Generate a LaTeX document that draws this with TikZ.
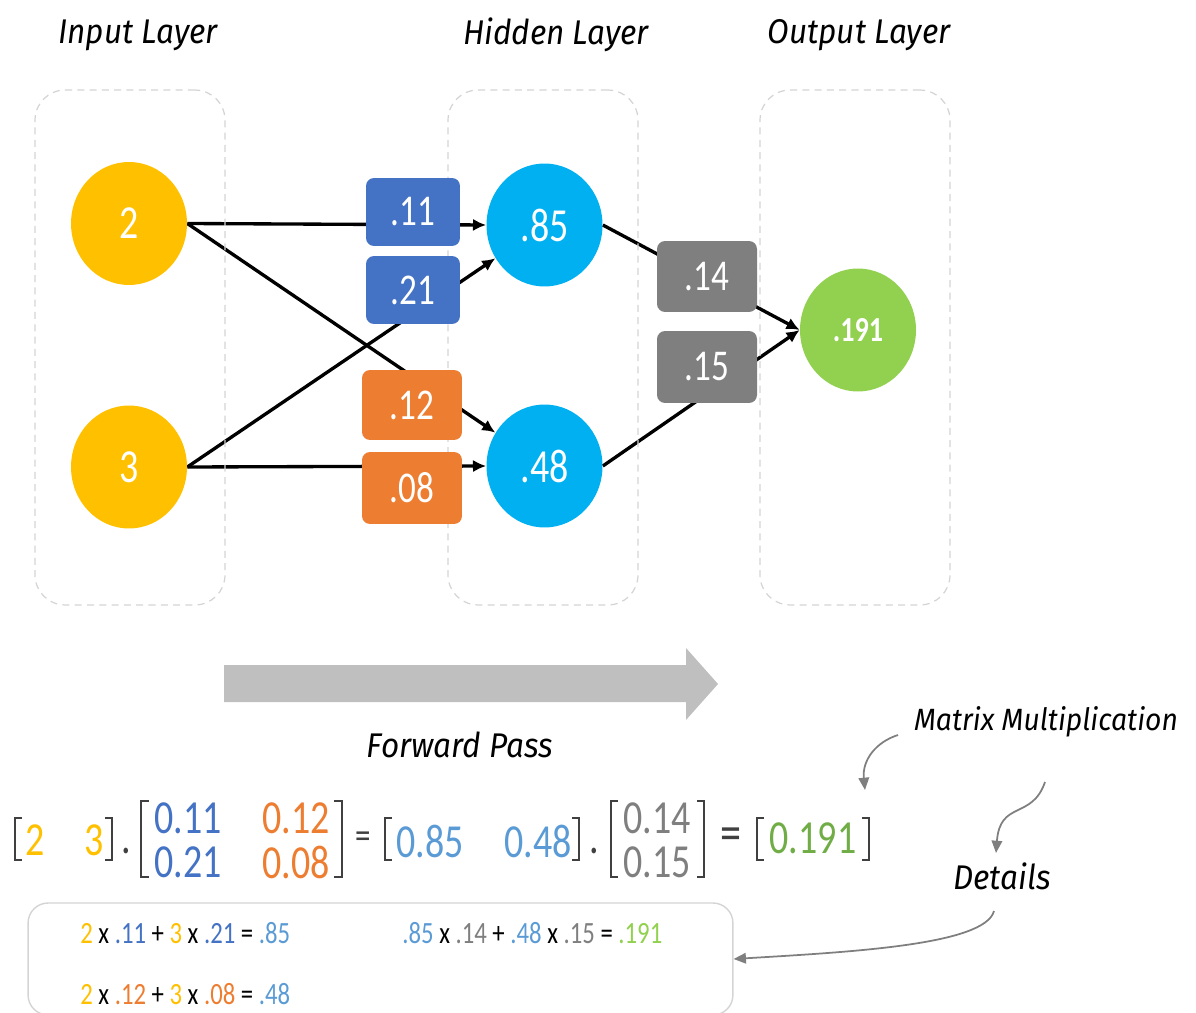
\documentclass[tikz,border=0pt]{standalone}
\usepackage{fontspec}
\newfontfamily\numfont[FakeStretch=0.8]{Carlito}
\newfontfamily\handfont[FakeStretch=0.92]{Fira Sans}
\usetikzlibrary{shapes.geometric,arrows.meta,backgrounds}
\definecolor{cyel}{HTML}{FFC000}
\definecolor{ccyan}{HTML}{00B0F0}
\definecolor{cgreen}{HTML}{92D050}
\definecolor{cdgreen}{HTML}{70AD47}
\definecolor{cblue}{HTML}{4472C4}
\definecolor{clblue}{HTML}{5B9BD5}
\definecolor{corange}{HTML}{ED7D31}
\definecolor{cgray}{HTML}{7F7F7F}
\definecolor{cbrk}{HTML}{404040}
\definecolor{cdash}{HTML}{D4D4D4}
\definecolor{cfwd}{HTML}{BFBFBF}
\newcommand\numsize[1]{\numfont\fontsize{#1}{#1}\selectfont}
\begin{document}
\begin{tikzpicture}[x=0.02cm,y=-0.02cm,
  neuron/.style={ellipse,minimum width=2.32cm,minimum height=2.46cm,inner sep=0pt,
    text=white,font=\numsize{27}},
  wbox/.style={rounded corners=0.16cm,inner sep=0pt,text=white,font=\numsize{25}},
  layerbox/.style={draw=cdash,dash pattern=on 4pt off 3pt,line width=0.7pt,
    rounded corners=0.6cm,minimum width=3.8cm,minimum height=10.3cm},
  link/.style={line width=1.9pt,-{Latex[length=7.5pt,width=7pt]}},
  note/.style={draw=cgray,line width=1pt,-{Triangle[length=7pt,width=6pt]}},
  hand/.style={font=\handfont\itshape\fontsize{19.5}{19.5}\selectfont},
  mnum/.style={font=\numsize{27},inner sep=0pt},
  dnum/.style={font=\numsize{17.6},inner sep=0pt,anchor=west},
  brk/.style={draw=cbrk,line width=1.2pt}]
\useasboundingbox (0,0) rectangle (1196,1013);
\clip (0,0) rectangle (1196,1013);

% layer titles
\node[hand] (tin)  at (138,35) {Input Layer};
\node[hand] (thid) at (556,35) {Hidden Layer};
\node[hand] (tout) at (859,35) {Output Layer};

% layer frames
\node[layerbox] (Lin)  at (130,347.5) {};
\node[layerbox] (Lhid) at (543,347.5) {};
\node[layerbox] (Lout) at (855,347.5) {};

% neurons
\node[neuron,fill=cyel]  (i1) at (129,223.5) {2};
\node[neuron,fill=cyel]  (i2) at (129,467) {3};
\node[neuron,fill=ccyan] (h1) at (544.5,225) {.85};
\node[neuron,fill=ccyan] (h2) at (544.5,466) {.48};
\node[neuron,fill=cgreen,font=\numfont\bfseries\fontsize{20}{20}\selectfont] (o1) at (858,330) {.191};

% connections, drawn behind the weight boxes
\begin{scope}[on background layer]
  \draw[link] (i1.east) -- (h1.west);
  \draw[link] (i1.east) -- (h2);
  \draw[link] (i2.east) -- (h1);
  \draw[link] (i2.east) -- (h2.west);
  \draw[link] (h1.east) -- (o1.west);
  \draw[link] (h2.east) -- (o1.west);
\end{scope}

% weights
\node[wbox,fill=cblue,minimum width=1.88cm,minimum height=1.36cm] (w11) at (413,212) {.11};
\node[wbox,fill=cblue,minimum width=1.88cm,minimum height=1.36cm] (w21) at (413,290) {.21};
\node[wbox,fill=corange,minimum width=2.0cm,minimum height=1.4cm] (w12) at (412,405) {.12};
\node[wbox,fill=corange,minimum width=2.0cm,minimum height=1.44cm] (w08) at (412,488) {.08};
\node[wbox,fill=cgray,minimum width=2.0cm,minimum height=1.42cm] (w14) at (707,276.5) {.14};
\node[wbox,fill=cgray,minimum width=2.0cm,minimum height=1.44cm] (w15) at (707,367) {.15};

% forward pass arrow
\fill[cfwd] (224,665) -- (686,665) -- (686,648) -- (718,684) -- (686,720)
  -- (686,702) -- (224,702) -- cycle;
\node[hand] (tfwd) at (460,745) {Forward Pass};

% matrix product
\draw[brk] (22,818) -- (15,818) -- (15,860) -- (22,860);
\node[mnum,text=cyel] (x1) at (35,840) {2};
\node[mnum,text=cyel] (x2) at (94,840) {3};
\draw[brk] (105,818) -- (112,818) -- (112,860) -- (105,860);
\node[mnum,text=cbrk] (dot1) at (126,851) {.};

\draw[brk] (149,801) -- (141,801) -- (141,877) -- (149,877);
\node[mnum,text=cblue]   (m11) at (188,818) {0.11};
\node[mnum,text=corange] (m12) at (296,818) {0.12};
\node[mnum,text=cblue]   (m21) at (188,862) {0.21};
\node[mnum,text=corange] (m22) at (296,862) {0.08};
\draw[brk] (334,801) -- (342,801) -- (342,877) -- (334,877);

\node[mnum,text=cbrk,font=\numsize{22}] (eq1) at (363,840) {=};

\draw[brk] (392,818) -- (385,818) -- (385,860) -- (392,860);
\node[mnum,text=clblue] (y1) at (430,841) {0.85};
\node[mnum,text=clblue] (y2) at (538,841) {0.48};
\draw[brk] (572,818) -- (579,818) -- (579,860) -- (572,860);
\node[mnum,text=cbrk] (dot2) at (594,851) {.};

\draw[brk] (618,801) -- (611,801) -- (611,877) -- (618,877);
\node[mnum,text=cgray] (v1) at (657,818) {0.14};
\node[mnum,text=cgray] (v2) at (657,862) {0.15};
\draw[brk] (697,801) -- (704,801) -- (704,877) -- (697,877);

\node[mnum,text=cbrk,font=\numsize{30}] (eq2) at (731,839) {=};

\draw[brk] (764,818) -- (757,818) -- (757,860) -- (764,860);
\node[mnum,text=cdgreen] (z1) at (813,838) {0.191};
\draw[brk] (862,818) -- (869,818) -- (869,860) -- (862,860);

% annotations
\node[hand,font=\handfont\itshape\fontsize{17.5}{17.5}\selectfont] (tmat) at (1046,722) {Matrix Multiplication};
\node[hand] (tdet) at (1002,876) {Details};
\coordinate (c1s) at (898,735);
\coordinate (c1e) at (865,790);
\coordinate (c2s) at (1045,782);
\coordinate (c2e) at (996,853);
\coordinate (c3s) at (994,911);

% details panel
\node[draw=cdash,line width=0.8pt,rounded corners=0.4cm,minimum width=14.1cm,
  minimum height=2.24cm] (dbox) at (380.5,959) {};
\node[dnum] (d1) at (80,933) {\textcolor{cyel}{2} x \textcolor{cblue}{.11} + \textcolor{cyel}{3} x \textcolor{cblue}{.21} = \textcolor{clblue}{.85}};
\node[dnum] (d2) at (80,994) {\textcolor{cyel}{2} x \textcolor{corange}{.12} + \textcolor{cyel}{3} x \textcolor{corange}{.08} = \textcolor{clblue}{.48}};
\node[dnum] (d3) at (402,933) {\textcolor{clblue}{.85} x \textcolor{cgray}{.14} + \textcolor{clblue}{.48} x \textcolor{cgray}{.15} = \textcolor{cgreen}{.191}};

\draw[note] (c1s) .. controls (876,742) and (862,760) .. (c1e);
\draw[note] (c2s) .. controls (1032,820) and (1000,800) .. (c2e);
\draw[note] (c3s) .. controls (985,945) and (850,952) .. (dbox.east);
\end{tikzpicture}
\end{document}
